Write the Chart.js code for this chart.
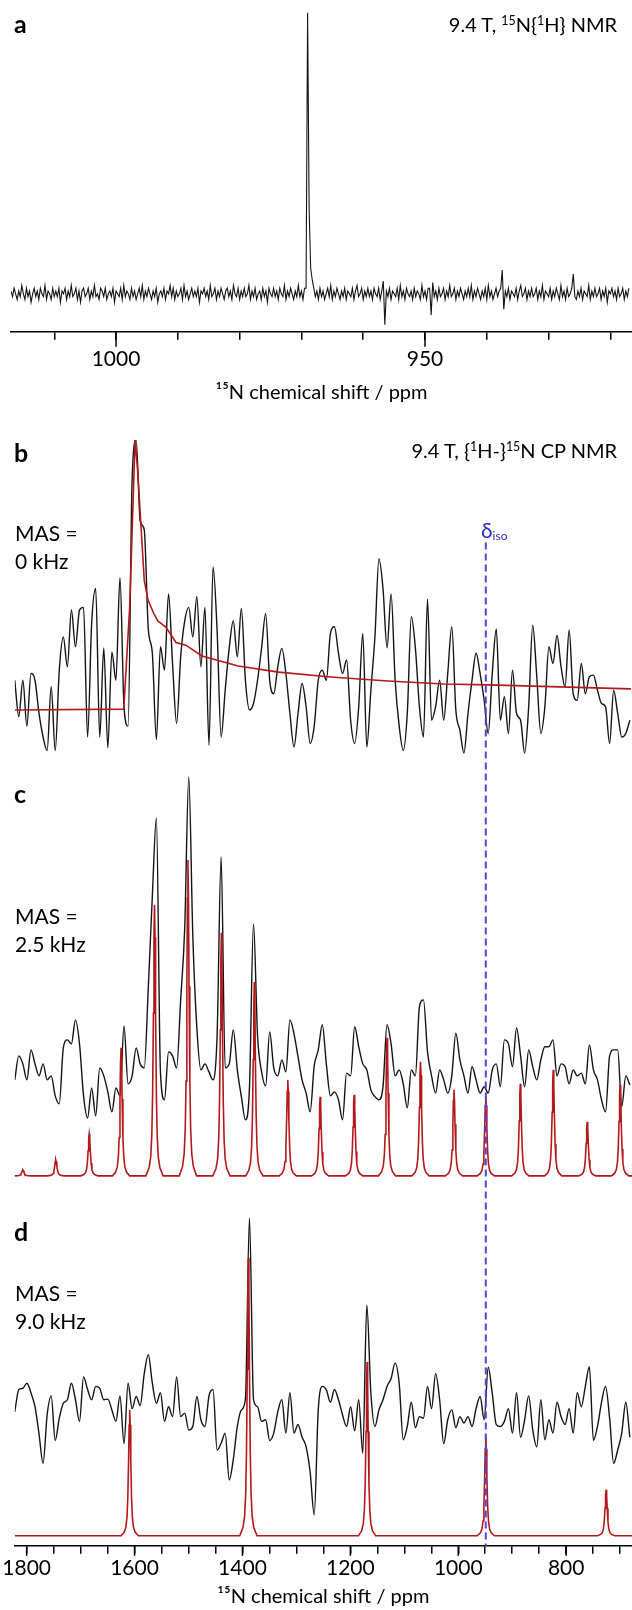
<!DOCTYPE html>
<html>
<head>
<meta charset="utf-8">
<script src="https://cdn.jsdelivr.net/npm/chart.js@4.4.1/dist/chart.umd.min.js"></script>
<style>
  html, body { margin: 0; padding: 0; background: #fff; }
  #page { position: relative; width: 632px; height: 1610px; font-family: Lato, 'Open Sans', sans-serif; color: #000; overflow: hidden; }
  .box { position: absolute; left: 0; width: 632px; }
  .lbl { position: absolute; line-height: 1; white-space: nowrap; }
  .panel { font-weight: 700; font-size: 25px; left: 14px; }
  .title { font-size: 20px; right: 15px; }
  .mas { font-size: 21px; line-height: 28px; left: 15px; }
  sup { font-size: 0.62em; vertical-align: 0.55em; line-height: 0; }
  .iso { color: #2c2cc4; font-size: 21px; left: 481px; }
  .iso sub { font-size: 12px; vertical-align: -0.15em; line-height: 0; }
</style>
</head>
<body>
<div id="page">
  <div class="box" style="top:0;height:405px"><canvas id="chartA"></canvas></div>
  <div class="box" style="top:420px;height:1190px"><canvas id="chartB"></canvas></div>

  <div class="lbl panel" style="top:11px">a</div>
  <div class="lbl title" style="top:14px">9.4 T, <sup>15</sup>N{<sup>1</sup>H} NMR</div>

  <div class="lbl panel" style="top:440px">b</div>
  <div class="lbl title" style="top:440px">9.4 T, {<sup>1</sup>H-}<sup>15</sup>N CP NMR</div>
  <div class="lbl mas" style="top:519px">MAS =<br>0 kHz</div>
  <div class="lbl iso" style="top:519px">δ<sub>iso</sub></div>

  <div class="lbl panel" style="top:781px">c</div>
  <div class="lbl mas" style="top:902px">MAS =<br>2.5 kHz</div>

  <div class="lbl panel" style="top:1219px">d</div>
  <div class="lbl mas" style="top:1279px">MAS =<br>9.0 kHz</div>
</div>
<script>
// ---- panel a: 15N{1H} spectrum, sampled every 0.25 ppm from 1017 ppm
const aStartPpm = 1017;
const aStepPpm = 0.25;
const aIntensity = [
  1,-1,2,0,-2,1,-1,3,0,-2,2,-1,1,-3,0,2,-1,1,-2,2,
  0,-1,3,-2,1,0,-2,2,-1,1,-1,2,-3,1,0,2,-2,1,-1,3,
  -1,0,2,-2,1,-3,1,2,-1,0,2,-2,1,-1,3,-1,0,-2,2,1,
  -1,2,-2,0,1,-1,2,-3,1,0,-1,2,-2,3,-1,1,0,-2,2,-1,
  1,-2,0,2,-1,3,-2,1,-1,2,0,-2,1,-1,2,-3,0,1,-1,2,
  -2,1,0,3,-1,2,-2,1,-1,0,2,-2,3,-1,1,-2,0,2,-1,1,
  -1,2,-3,1,0,2,-1,1,-2,3,-1,0,2,-2,1,-1,2,0,-2,1,
  2,-1,1,-2,3,0,-1,2,-2,1,-1,2,-1,0,3,-2,1,-1,2,-2,
  0,1,-2,2,-1,1,-3,2,0,-1,2,-1,1,-2,2,0,-1,3,-2,1,
  -1,2,0,-2,1,-1,3,-1,1,-2,2,2,100,30,9,5,2,-1,1,-2,
  2,-1,1,-2,0,2,-1,3,-2,1,-1,2,0,-2,1,-1,2,-2,1,0,
  -1,2,-2,1,3,-1,0,2,-2,1,-1,2,-1,1,-2,2,0,-1,2,-2,
  1,4.5,-11,1,-1,2,-2,1,0,-1,2,-2,3,-1,1,-2,2,0,-1,1,
  -2,2,-1,1,0,-2,3,-1,1,-2,2,2,-7.5,4,-1,1,-2,2,-1,0,
  2,-2,1,-1,3,-1,0,2,-2,1,-1,2,0,-2,1,-1,2,-1,3,-2,
  1,-1,2,0,-2,1,-1,2,-2,3,-1,1,-2,0,2,-1,1,2,8.5,-5.5,
  1,-1,2,-2,1,0,-1,2,-2,1,3,-1,0,2,-2,1,-1,2,-1,0,
  2,-2,1,-1,3,-2,1,0,-1,2,-2,1,-1,2,0,-2,3,-1,1,-2,
  2,-1,0,2,7,-1,-2,1,-1,2,-2,1,0,-1,3,-2,1,-1,2,-1,
  0,2,-2,1,-1,2,-3,1,0,2,-1,1,-2,2,-1,0,2,-2,1,-1,
  2
];
const aTickValues = [1010, 1000, 990, 980, 970, 960, 950, 940, 930, 920];
const aLabelValues = [1000, 950];

// ---- panels b-d: CP MAS spectra, sampled every 7.5 ppm from 1822 ppm
const cpStartPpm = 1822;
const cpStepPpm = 7.5;
const bIntensity = [
  11,-2.5,11,-6,13.5,11,-1.3,-10,-15,8.6,
  -15,14.7,27,16,37,23.4,37,38,-10,32,
  45,-10,23,-14,21.5,11,49,1.2,-6,85,
  100,70,66.7,30,21,-11,23.4,14.7,43,17,
  -5,19.7,33,38,27,42,16,38,-13,53,
  29.6,-10,7.3,23,33,19.7,37.6,11,0,2.4,
  11,23,35.7,11,6,16,22.8,13.5,-1.3,-13.7,
  -1.3,9.8,1.2,-12.4,-6,11,14.7,11,28.3,30.8,
  21,13.5,18.5,-3.8,-12.4,1.2,28.3,-13.7,7.3,27,
  56,45,23,43,11,-6,-15,-1.3,34.5,23,
  1.2,-10,41,-3.8,1.2,11,-3.8,13.5,30.8,0,
  -7.5,-16,-1.3,11,21,13.5,3.6,-8.7,13.5,30,
  -3.8,4.9,-8.7,14.7,-1.3,-3.8,-16,1.2,31.4,12.3,
  -8.7,1.2,23.4,17.2,27.7,16,8.6,29.6,6,3.6,
  17.2,6,12.3,12.9,7.3,2.4,1.2,-12.4,7.3,-1.3,
  -10,-8.7,-3.8
];
const cIntensity = [
  24,30,28,24,31.5,28,25,28,24,25,
  20,18,32,34,33,39,33,20,14.5,22,
  15,27,25,21,16,22,20,37.5,23,25,
  32,28,27,47,70,89.5,26,19,31,30,
  27,44,62,99.75,60,37,26.5,28,26,24,
  35,79.75,27,28,36.5,26.5,19.8,14,22,63,
  35,26,22.5,36,27,25,29,26,39,35.5,
  29.8,24,20.7,16,27.5,31.5,37.8,28,20,21,
  19,14,25.7,25,37.3,32.3,28,26.5,21.5,19.8,
  19,22.3,37.8,33,25,26.5,23,17,26.5,25,
  42.3,44,31,25,20.7,26.5,24,20.7,25,35.7,
  29,25,20.7,27.3,24,20.7,22.3,20.7,26.5,28,
  22.3,34,33,27.3,37,30,22.3,31.5,27.3,24,
  29,32.3,32.3,34,25,28,27.3,23,26.5,25,
  25.7,23,32.75,26.5,24,19,16,30,31.5,31.5,
  17.3,25,22.75
];
const dIntensity = [
  39,46,46.4,48,45,40.6,32,22.8,38,44,
  30,37,41.7,42.8,48,42.8,36,50,46,42.8,
  47,46.4,42.8,43,39.6,36,44,29,48,40,
  43.8,41,51,57,48,41.7,45,36,40.6,37.5,
  50,37.5,38.6,33.3,34.4,43.8,36.5,34.4,44,46,
  27,29.1,32.3,17.6,24,34.4,39.6,43,100,42.8,
  40.6,36,36.5,30,32.3,39,42.8,32.3,45,32.3,
  35,31,28,20,6.6,39.6,47,45.9,42,46,
  42.8,38,34.4,40.6,33,42.8,26,72.6,45,34.4,
  39.6,42.8,47,49.5,54.3,48,30.2,34.4,42,34,
  37.5,37,47,40,51,42.8,29,36.5,39.6,34,
  37.5,35.5,37.5,34.4,40,43.8,36.5,53,44.8,35,
  34.4,36,40,32.3,45,31,36.5,44,33.3,28,
  42.8,30.2,36.5,32.3,42,37.5,35,40,32.3,45,
  40.6,47,53.2,30,34.4,42,47,37,22.8,27,
  32.3,42,31
];

// simulated static (0 kHz) powder pattern
const bSimPpm = [1822, 1620, 1609, 1599, 1594, 1582, 1575, 1565, 1557, 1542, 1523, 1505, 1475, 1408, 1333, 1236, 1131, 1027, 944, 680];
const bSimIntensity = [0, 0.3, 38, 100, 88, 48, 40.7, 36, 33, 30.7, 25, 24, 20, 16.3, 14, 12.2, 10.7, 9.6, 9.3, 7.8];

// simulated spinning sidebands
const cSidebandPpm = [1807, 1746, 1684, 1625, 1563, 1501, 1439, 1378, 1316, 1256, 1193, 1132, 1070, 1008, 949, 885, 824, 761, 700];
const cSidebandHeight = [1.5, 4, 10.5, 32, 67.8, 79, 60.8, 48.5, 24, 19.8, 20.3, 34.5, 28.5, 21.5, 20, 23, 26.5, 13.5, 22.7];
const dSidebandPpm = [1609, 1389, 1169, 949, 726];
const dSidebandHeight = [39.6, 87.4, 54.7, 31.1, 14.5];

// line shape of one simulated sideband (ppm offset, fraction of peak height)
const peakShapeOffset = [-16, -10, -7, -5, -3.5, -2, -1, 0, 1, 2, 3.5, 5, 7, 10, 16];
const peakShapeFraction = [0, 0.03, 0.07, 0.15, 0.3, 0.6, 0.88, 1, 0.88, 0.6, 0.3, 0.15, 0.07, 0.03, 0];

const isoPpm = 949;
const cpTickValues = [1800, 1750, 1700, 1650, 1600, 1550, 1500, 1450, 1400, 1350, 1300, 1250, 1200, 1150, 1100, 1050, 1000, 950, 900, 850, 800, 750, 700];
const cpLabelValues = [1800, 1600, 1400, 1200, 1000, 800];

const FONT = 'Lato, "Open Sans", sans-serif';
const BLACK = '#141414';
const RED = '#b3191c';
const BLUE = 'rgb(72, 72, 222)';

const sampled = (start, step, values) => values.map((v, i) => ({ x: start - i * step, y: v }));

function sidebandTrace(centers, heights, hi, lo) {
  const pts = [{ x: hi, y: 0 }, { x: lo, y: 0 }];
  centers.forEach((c, k) => {
    peakShapeOffset.forEach((o, j) => pts.push({ x: c - o, y: heights[k] * peakShapeFraction[j] }));
  });
  return pts.sort((p, q) => q.x - p.x);
}

const line = (data, yAxisID, color, width, order, smooth) => ({
  data, yAxisID, borderColor: color, borderWidth: width, order,
  pointRadius: 0, tension: smooth ? 0.4 : 0,
  cubicInterpolationMode: smooth ? 'monotone' : 'default',
  fill: false
});

// draws the longer (labelled) tick marks on the x axis
const tickPlugin = {
  id: 'nmrTicks',
  afterDraw(chart, args, opts) {
    const scale = chart.scales.x;
    const ctx = chart.ctx;
    ctx.save();
    ctx.strokeStyle = '#000';
    ctx.lineWidth = 1.5;
    opts.major.forEach(v => {
      const px = scale.getPixelForValue(v);
      ctx.beginPath();
      ctx.moveTo(px, scale.top);
      ctx.lineTo(px, scale.top + opts.length);
      ctx.stroke();
    });
    ctx.restore();
  }
};

// dashed line at the isotropic shift through panels b-d
const isoLinePlugin = {
  id: 'isoLine',
  afterDatasetsDraw(chart, args, opts) {
    const { ctx, chartArea, scales } = chart;
    const px = scales.x.getPixelForValue(opts.ppm);
    const top = scales.yb.getPixelForValue(opts.from);
    ctx.save();
    ctx.strokeStyle = opts.color;
    ctx.lineWidth = 2;
    ctx.setLineDash([7, 4]);
    ctx.beginPath();
    ctx.moveTo(px, top);
    ctx.lineTo(px, chartArea.bottom);
    ctx.stroke();
    ctx.restore();
  }
};

function xAxis(min, max, tickValues, labelValues, tickPadding) {
  return {
    type: 'linear',
    reverse: true,
    min, max,
    afterBuildTicks: (axis) => { axis.ticks = tickValues.map(v => ({ value: v })); },
    ticks: {
      autoSkip: false, maxRotation: 0, minRotation: 0,
      padding: tickPadding,
      color: '#000',
      font: { family: FONT, size: 21 },
      callback: (v) => labelValues.includes(v) ? String(v) : ''
    },
    grid: { display: true, drawOnChartArea: false, drawTicks: true, tickLength: 8, color: '#000', lineWidth: 1.5 },
    border: { display: true, color: '#000', width: 1.5 },
    title: {
      display: true, text: '¹⁵N chemical shift / ppm', color: '#000',
      font: { family: FONT, size: 20 }, padding: { top: 2, bottom: 0 }
    }
  };
}

Chart.defaults.animation = false;

new Chart(document.getElementById('chartA'), {
  type: 'line',
  data: { datasets: [line(sampled(aStartPpm, aStepPpm, aIntensity), 'y', BLACK, 1.1, 0, false)] },
  options: {
    responsive: true,
    maintainAspectRatio: false,
    layout: { padding: { left: 11, right: 0, top: 10, bottom: 0 } },
    plugins: {
      legend: { display: false },
      tooltip: { enabled: false },
      nmrTicks: { major: aLabelValues, length: 15 }
    },
    scales: {
      x: xAxis(916.5, 1017, aTickValues, aLabelValues, 7),
      y: { display: false, min: -13.5, max: 100.94 }
    }
  },
  plugins: [tickPlugin]
});

new Chart(document.getElementById('chartB'), {
  type: 'line',
  data: {
    datasets: [
      line(bSimPpm.map((p, i) => ({ x: p, y: bSimIntensity[i] })), 'yb', RED, 1.6, 0, false),
      line(sampled(cpStartPpm, cpStepPpm, bIntensity), 'yb', BLACK, 1.4, 1, true),
      line(sidebandTrace(cSidebandPpm, cSidebandHeight, 1822, 678), 'yc', RED, 1.6, 0, false),
      line(sampled(cpStartPpm, cpStepPpm, cIntensity), 'yc', BLACK, 1.4, 1, true),
      line(sidebandTrace(dSidebandPpm, dSidebandHeight, 1822, 678), 'yd', RED, 1.6, 0, false),
      line(sampled(cpStartPpm, cpStepPpm, dIntensity), 'yd', BLACK, 1.4, 1, true)
    ]
  },
  options: {
    responsive: true,
    maintainAspectRatio: false,
    layout: { padding: { left: 14, right: 0, top: 20, bottom: 1 } },
    plugins: {
      legend: { display: false },
      tooltip: { enabled: false },
      nmrTicks: { major: cpLabelValues, length: 10 },
      isoLine: { ppm: isoPpm, from: 62, color: BLUE }
    },
    scales: {
      x: xAxis(678, 1822, cpTickValues, cpLabelValues, 2),
      yb: { display: false, position: 'left', stack: 'spectra', stackWeight: 335, weight: 3, min: -24.07, max: 100 },
      yc: { display: false, position: 'left', stack: 'spectra', stackWeight: 410, weight: 2, min: -2.25, max: 100.25 },
      yd: { display: false, position: 'left', stack: 'spectra', stackWeight: 361, weight: 1, min: -3.14, max: 110.38 }
    }
  },
  plugins: [tickPlugin, isoLinePlugin]
});
</script>
</body>
</html>
